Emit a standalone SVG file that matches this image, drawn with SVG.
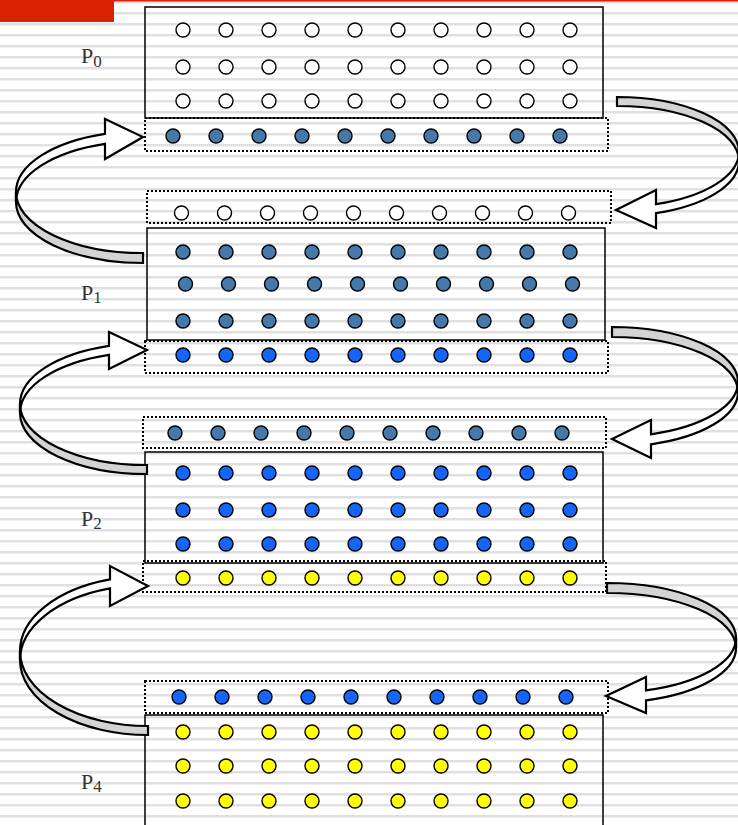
<svg xmlns="http://www.w3.org/2000/svg" xmlns:xlink="http://www.w3.org/1999/xlink" width="738" height="825" viewBox="0 0 738 825">
  <defs>
    <pattern id="stripes" width="738" height="11" y="1" patternUnits="userSpaceOnUse">
      <rect x="0" y="0" width="738" height="2.5" fill="#e0e0e0"/>
    </pattern>
    <!-- one row of ten process cells -->
    <g id="row">
      <circle cx="0" cy="0" r="7"/>
      <circle cx="43" cy="0" r="7"/>
      <circle cx="86" cy="0" r="7"/>
      <circle cx="129" cy="0" r="7"/>
      <circle cx="172" cy="0" r="7"/>
      <circle cx="215" cy="0" r="7"/>
      <circle cx="258" cy="0" r="7"/>
      <circle cx="301" cy="0" r="7"/>
      <circle cx="344" cy="0" r="7"/>
      <circle cx="387" cy="0" r="7"/>
    </g>
  </defs>
  <style>
    .box { fill: none; stroke: #000; stroke-width: 1.5; }
    .ghost { fill: none; stroke: #000; stroke-width: 2; stroke-dasharray: 2 2; }
    use { stroke: #000; stroke-width: 1.4; }
    .w { fill: #ffffff; }
    .s { fill: #4479aa; }
    .b { fill: #1466fb; }
    .y { fill: #ffff00; }
    .lbl { font-family: "Liberation Serif", "Times New Roman", serif; font-size: 22px; fill: #333; }
    .sub { font-size: 17px; }
    .front { fill: #ffffff; stroke: #000; stroke-width: 2.2; stroke-linejoin: miter; }
    .back { fill: #d4d4d4; stroke: #000; stroke-width: 2.2; }
  </style>

  <!-- background -->
  <rect x="0" y="0" width="738" height="825" fill="#ffffff"/>
  <rect x="0" y="0" width="738" height="825" fill="url(#stripes)"/>
  <rect x="0" y="0" width="738" height="1.5" fill="#dd2200"/>
  <rect x="0" y="0" width="114" height="22" fill="#d92300"/>

  <!-- process 0 -->
  <g id="p0">
    <rect class="box" x="145" y="7" width="458" height="111"/>
    <use xlink:href="#row" href="#row" x="183" y="30" class="w"/>
    <use xlink:href="#row" href="#row" x="183" y="67" class="w"/>
    <use xlink:href="#row" href="#row" x="183" y="101" class="w"/>
    <text class="lbl" x="81" y="63">P<tspan class="sub" dy="4">0</tspan></text>
  </g>
  <g id="p0-ghost-bottom">
    <rect class="ghost" x="145" y="118" width="463" height="33"/>
    <use xlink:href="#row" href="#row" x="173" y="136" class="s"/>
  </g>

  <!-- process 1 -->
  <g id="p1-ghost-top">
    <rect class="ghost" x="147" y="191" width="464" height="32"/>
    <use xlink:href="#row" href="#row" x="181.5" y="213" class="w"/>
  </g>
  <g id="p1">
    <rect class="box" x="147" y="228" width="458" height="112"/>
    <use xlink:href="#row" href="#row" x="183" y="252" class="s"/>
    <use xlink:href="#row" href="#row" x="185.5" y="284" class="s"/>
    <use xlink:href="#row" href="#row" x="183" y="321" class="s"/>
    <text class="lbl" x="81" y="300">P<tspan class="sub" dy="3">1</tspan></text>
  </g>
  <g id="p1-ghost-bottom">
    <rect class="ghost" x="145" y="341" width="463" height="32"/>
    <use xlink:href="#row" href="#row" x="183" y="355" class="b"/>
  </g>

  <!-- process 2 -->
  <g id="p2-ghost-top">
    <rect class="ghost" x="143" y="417" width="463" height="31"/>
    <use xlink:href="#row" href="#row" x="175" y="433" class="s"/>
  </g>
  <g id="p2">
    <rect class="box" x="145" y="452" width="458" height="111"/>
    <use xlink:href="#row" href="#row" x="183" y="473" class="b"/>
    <use xlink:href="#row" href="#row" x="183" y="510" class="b"/>
    <use xlink:href="#row" href="#row" x="183" y="544" class="b"/>
    <text class="lbl" x="81" y="526">P<tspan class="sub" dy="3">2</tspan></text>
  </g>
  <g id="p2-ghost-bottom">
    <rect class="ghost" x="143" y="561" width="463" height="31"/>
    <use xlink:href="#row" href="#row" x="183" y="578" class="y"/>
  </g>

  <!-- process 4 -->
  <g id="p4-ghost-top">
    <rect class="ghost" x="145" y="681" width="463" height="32"/>
    <use xlink:href="#row" href="#row" x="179" y="697" class="b"/>
  </g>
  <g id="p4">
    <rect class="box" x="145" y="715" width="458" height="130"/>
    <use xlink:href="#row" href="#row" x="183" y="732" class="y"/>
    <use xlink:href="#row" href="#row" x="183" y="766" class="y"/>
    <use xlink:href="#row" href="#row" x="183" y="801" class="y"/>
    <text class="lbl" x="81" y="789">P<tspan class="sub" dy="3">4</tspan></text>
  </g>

  <!-- halo exchange arrows -->
  <g id="connectors">
    <!-- left side, P1 -> P0 -->
    <path class="back" d="M16,192 A127,61 0 0 0 143,253 L143,263 A127,61 0 0 1 16,202 Z"/>
    <path class="front" d="M16,192 A127,61 0 0 1 105,133.8 L105,119 L143,137 L105,159 L105,143.8 A127,61 0 0 0 16,202 Z"/>

    <!-- right side, P0 -> P1 -->
    <path class="back" d="M617,97 A122,55 0 0 1 739,152 L739,161 A122,55 0 0 0 617,106 Z"/>
    <path class="front" d="M739,152 A122,55 0 0 1 656,204.1 L656,190 L616,210 L656,228 L656,213.1 A122,55 0 0 0 739,161 Z"/>

    <!-- left side, P2 -> P1 -->
    <path class="back" d="M20,404 A127,61 0 0 0 147,465 L147,474 A127,61 0 0 1 20,413 Z"/>
    <path class="front" d="M20,404 A127,61 0 0 1 109,345.8 L109,332 L147,350 L109,369 L109,354.8 A127,61 0 0 0 20,413 Z"/>

    <!-- right side, P1 -> P2 -->
    <path class="back" d="M612,327 A126,55 0 0 1 738,382 L738,392 A126,55 0 0 0 612,337 Z"/>
    <path class="front" d="M738,382 A126,55 0 0 1 651,434.3 L651,420 L612,439 L651,458 L651,444.3 A126,55 0 0 0 738,392 Z"/>

    <!-- left side, P4 -> P2 -->
    <path class="back" d="M20,651 A128,75 0 0 0 148,726 L148,735 A128,75 0 0 1 20,660 Z"/>
    <path class="front" d="M20,651 A128,75 0 0 1 110,579.4 L110,566 L148,586 L110,606 L110,588.4 A128,75 0 0 0 20,660 Z"/>

    <!-- right side, P2 -> P4 -->
    <path class="back" d="M607,583 A129,55 0 0 1 736,638 L736,648 A129,55 0 0 0 607,593 Z"/>
    <path class="front" d="M736,638 A129,55 0 0 1 646,690.4 L646,677 L606,696 L646,713 L646,700.4 A129,55 0 0 0 736,648 Z"/>
  </g>
</svg>
